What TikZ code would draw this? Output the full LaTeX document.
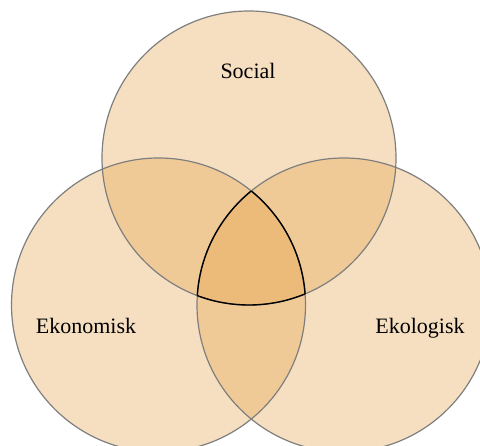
\documentclass[tikz,border=0pt]{standalone}
\usepackage{fontspec}
\setmainfont{Liberation Serif}
\definecolor{peach}{HTML}{E49E40}
\definecolor{rim}{HTML}{7E7E7E}

\begin{document}
\begin{tikzpicture}[x=1pt,y=-1pt,every node/.style={font=\fontsize{22}{26}\selectfont},ring/.style={fill=peach,fill opacity=0.33},rimline/.style={draw=rim,line width=1.2pt},core/.style={draw=black,line width=1.4pt},tag/.style={anchor=base,inner sep=0pt}]
\useasboundingbox (0,0) rectangle (480,446);
\coordinate (soc) at (249,158);
\coordinate (eko) at (158.5,305);
\coordinate (eco) at (344,305);
% the three circles
\foreach \c in {soc,eko,eco} \fill[ring] (\c) circle[radius=147pt];
\foreach \c in {soc,eko,eco} \draw[rimline] (\c) circle[radius=147pt];
% outline of the common part
\begin{scope}
\clip (soc) circle[radius=147pt]; \clip (eko) circle[radius=147pt];
\draw[core] (eco) circle[radius=147pt];
\end{scope}
\begin{scope}
\clip (soc) circle[radius=147pt]; \clip (eco) circle[radius=147pt];
\draw[core] (eko) circle[radius=147pt];
\end{scope}
\begin{scope}
\clip (eko) circle[radius=147pt]; \clip (eco) circle[radius=147pt];
\draw[core] (soc) circle[radius=147pt];
\end{scope}
\node[tag] (social) at (248,79) {Social};
\node[tag] (ekonomisk) at (86,334) {Ekonomisk};
\node[tag] (ekologisk) at (420,334) {Ekologisk};
\end{tikzpicture}
\end{document}
